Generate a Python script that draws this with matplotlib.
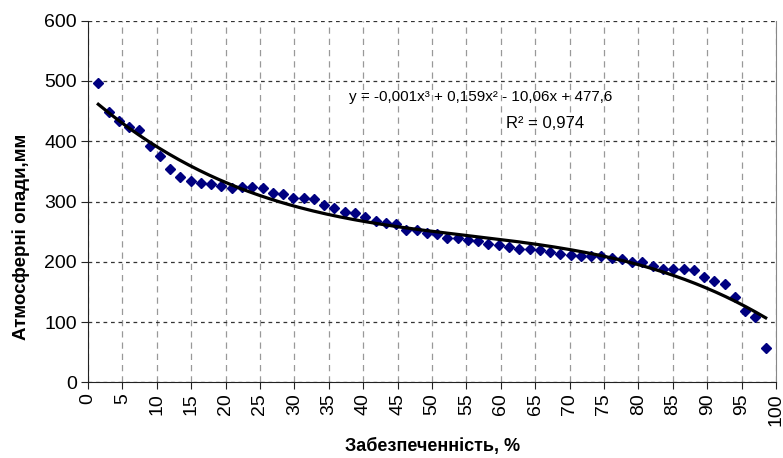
import numpy as np
import matplotlib
matplotlib.use('Agg')
import matplotlib.pyplot as plt

plt.rcParams['font.family'] = ['Liberation Sans', 'DejaVu Sans']

# забезпеченість p = m/(n+1)*100, n = 66
rank = np.arange(1, 67)
supply = rank / (len(rank) + 1) * 100

precip = [497, 449, 434, 424, 419, 392, 376, 354, 341, 334,
          330, 329, 326, 322, 324, 324, 322, 314, 312, 306,
          306, 304, 294, 290, 282, 281, 275, 268, 265, 263,
          253, 253, 248, 246, 239, 239, 237, 234, 229, 228,
          225, 221, 221, 220, 216, 213, 212, 210, 210, 209,
          207, 205, 200, 199, 193, 189, 188, 188, 186, 175,
          169, 164, 141, 119, 109, 57]

eq_text = 'y = -0,001x³ + 0,159x² - 10,06x + 477,6'
r2_text = 'R² = 0,974'

fig = plt.figure(figsize=(7.83, 4.58), dpi=100)
ax = fig.add_axes([0.1124, 0.1649, 0.8786, 0.79])

ax.plot(supply, precip, linestyle='none', marker='D', ms=4.8,
        color='#000080', zorder=3)

# поліноміальний тренд 3-го ступеня
coef = np.polyfit(supply, precip, 3)
xs = np.linspace(supply[0], supply[-1], 200)
ax.plot(xs, np.polyval(coef, xs), color='black', lw=2.3, zorder=4)

ax.set_xlim(0, 100)
ax.set_ylim(0, 600)
ax.set_xticks(np.arange(0, 101, 5))
ax.set_yticks(np.arange(0, 601, 100))
ax.tick_params(axis='x', labelrotation=90, labelsize=14, direction='out',
               length=5, pad=3, colors='#222222', labelcolor='black')
ax.tick_params(axis='y', labelsize=14, direction='out', length=5, pad=3,
               colors='#222222', labelcolor='black')

ax.yaxis.grid(True, color='#333333', linestyle=(0, (3, 3)), lw=0.9)
ax.xaxis.grid(True, color='#999999', linestyle=(0, (5, 4)), lw=0.9)
ax.set_axisbelow(True)

ax.spines['top'].set_visible(False)
ax.spines['right'].set_color('#888888')
ax.spines['left'].set_color('#222222')
ax.spines['bottom'].set_color('#222222')

ax.set_xlabel('Забезпеченність, %', fontsize=13, fontweight='bold')
ax.set_ylabel('Атмосферні опади,мм', fontsize=13.5, fontweight='bold')
ax.xaxis.set_label_coords(0.501, -0.178)
ax.yaxis.set_label_coords(-0.097, 0.402)
ax.xaxis.label.set_va('center')
ax.yaxis.label.set_va('center')

ax.text(57.1, 473, eq_text, fontsize=11, ha='center', va='center')
ax.text(66.4, 430, r2_text, fontsize=12, ha='center', va='center')

fig.savefig('out.png', dpi=100)
